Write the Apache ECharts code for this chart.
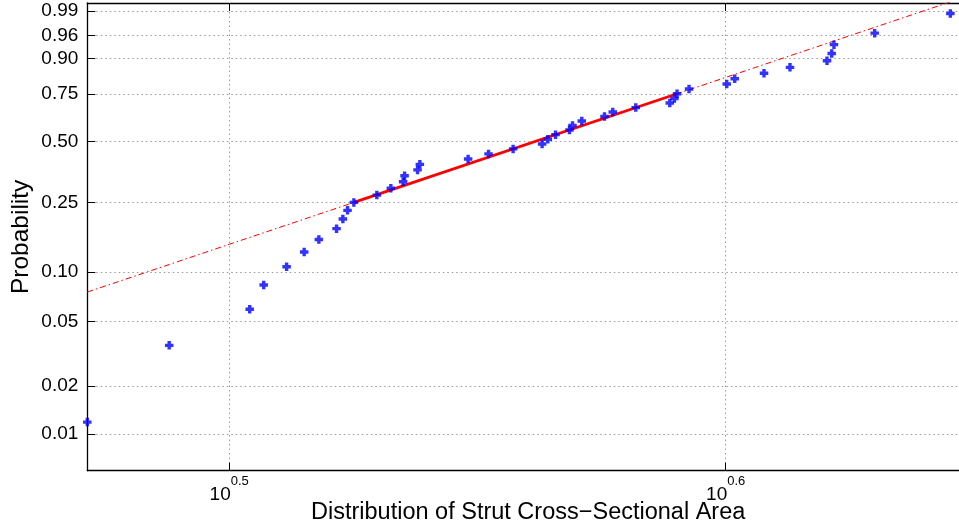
<!DOCTYPE html>
<html>
<head>
<meta charset="utf-8">
<script src="https://cdn.jsdelivr.net/npm/echarts@6/dist/echarts.min.js"></script>
<style>html,body{margin:0;padding:0;background:#fff;}#c{width:959px;height:530px;}</style>
</head>
<body>
<div id="c"></div>
<script>
// Strut cross-sectional area samples (sorted)
const areaValues = [2.9609, 3.0755, 3.1925, 3.2133, 3.2476, 3.2742, 3.2965, 3.3237, 3.3334, 3.3407,
  3.3505, 3.3864, 3.4084, 3.4279, 3.4302, 3.4509, 3.4546, 3.5328, 3.5664, 3.6073,
  3.6561, 3.6658, 3.6789, 3.7028, 3.7080, 3.7240, 3.7634, 3.7779, 3.8184, 3.8791,
  3.8875, 3.8922, 3.9139, 3.9829, 3.9977, 4.0524, 4.1015, 4.1725, 4.1816, 4.1860,
  4.2658, 4.4181];
// plotting-position probabilities
const probValues = [0.0119, 0.0357, 0.0595, 0.0833, 0.1071, 0.1310, 0.1548, 0.1786, 0.2024, 0.2262,
  0.2500, 0.2738, 0.2976, 0.3214, 0.3452, 0.3690, 0.3929, 0.4167, 0.4405, 0.4643,
  0.4881, 0.5119, 0.5357, 0.5595, 0.5833, 0.6071, 0.6310, 0.6548, 0.6786, 0.7024,
  0.7262, 0.7500, 0.7738, 0.7976, 0.8214, 0.8452, 0.8690, 0.8929, 0.9167, 0.9405,
  0.9643, 0.9881];
// reference line through the quartiles [area, probability]
const refLinePoints = [[3.3505, 0.25], [3.8922, 0.75]];
// axis limits
const xLimits = [2.9609, 4.4565];
const yLimits = [0.005906, 0.99424];
// tick labels
const xTickExponents = [0.5, 0.6];
const yTickProbs = [0.01, 0.02, 0.05, 0.10, 0.25, 0.50, 0.75, 0.90, 0.96, 0.99];
const yTickLabels = ['0.01', '0.02', '0.05', '0.10', '0.25', '0.50', '0.75', '0.90', '0.96', '0.99'];

const FONT = '"Liberation Sans", Arial, Helvetica, sans-serif';
const wb = p => Math.log(-Math.log(1 - p));
const lx = x => Math.log10(x);

const scatterData = areaValues.map((a, i) => [lx(a), wb(probValues[i])]);
const qA = [lx(refLinePoints[0][0]), wb(refLinePoints[0][1])];
const qB = [lx(refLinePoints[1][0]), wb(refLinePoints[1][1])];
const slope = (qB[1] - qA[1]) / (qB[0] - qA[0]);
const xMin = lx(xLimits[0]), xMax = lx(xLimits[1]);
const dashData = [[xMin, qA[1] + slope * (xMin - qA[0])], [xMax, qA[1] + slope * (xMax - qA[0])]];
const yTickVals = yTickProbs.map(wb);

function yLabel(v) {
  let best = 0, bd = Infinity;
  yTickVals.forEach((t, i) => { const d = Math.abs(t - v); if (d < bd) { bd = d; best = i; } });
  return yTickLabels[best];
}

const gridLine = { show: true, lineStyle: { color: '#9a9a9a', type: [1.5, 3], width: 1 } };
const axisLineStyle = { show: true, onZero: false, lineStyle: { color: '#000', width: 1.3 } };

const chart = echarts.init(document.getElementById('c'));
chart.setOption({
  animation: false,
  backgroundColor: '#fff',
  grid: { left: 87.3, top: 3, right: -10, bottom: 59.3, containLabel: false, outerBoundsMode: 'none' },
  xAxis: [{
    type: 'value', min: xMin, max: xMax, position: 'bottom',
    axisLine: axisLineStyle,
    axisTick: { show: true, inside: true, length: 8, customValues: xTickExponents, lineStyle: { color: '#000' } },
    splitLine: gridLine,
    axisLabel: {
      customValues: xTickExponents, margin: 3,
      formatter: v => '{b|10}{s|' + v.toFixed(1) + '}',
      rich: {
        b: { fontFamily: FONT, fontSize: 19, color: '#000', padding: [12, 0, 0, 0] },
        s: { fontFamily: FONT, fontSize: 13, color: '#000', padding: [0, 0, 15, 0] }
      }
    },
    name: 'Distribution of Strut Cross\u2212Sectional Area',
    nameLocation: 'middle', nameGap: 30, nameMoveOverlap: false,
    nameTextStyle: { fontFamily: FONT, fontSize: 23.5, color: '#000', verticalAlign: 'top' }
  }, {
    type: 'value', min: xMin, max: xMax, position: 'top',
    axisLine: axisLineStyle,
    axisTick: { show: true, inside: true, length: 8, customValues: xTickExponents, lineStyle: { color: '#000' } },
    splitLine: { show: false }, axisLabel: { show: false }
  }],
  yAxis: [{
    type: 'value', min: wb(yLimits[0]), max: wb(yLimits[1]), position: 'left',
    axisLine: axisLineStyle,
    axisTick: { show: true, inside: true, length: 8, customValues: yTickVals, lineStyle: { color: '#000' } },
    splitLine: gridLine,
    axisLabel: { customValues: yTickVals, margin: 9, formatter: yLabel, fontFamily: FONT, fontSize: 19, color: '#000' },
    name: 'Probability', nameLocation: 'middle', nameGap: 54, nameRotate: 90, nameMoveOverlap: false,
    nameTextStyle: { fontFamily: FONT, fontSize: 24.5, color: '#000' }
  }, {
    type: 'value', min: wb(yLimits[0]), max: wb(yLimits[1]), position: 'right',
    axisLine: axisLineStyle,
    axisTick: { show: true, inside: true, length: 8, customValues: yTickVals },
    splitLine: { show: false }, axisLabel: { show: false }
  }],
  series: [{
    type: 'line', data: dashData, showSymbol: false, symbol: 'none',
    lineStyle: { color: '#ff0000', width: 1, type: [6, 3, 1.5, 3] }, z: 2
  }, {
    type: 'line', data: [qA, qB], showSymbol: false, symbol: 'none',
    lineStyle: { color: '#ff0000', width: 2.8 }, z: 3
  }, {
    type: 'scatter', data: scatterData, clip: false,
    symbol: 'path://M3,0H7V3H10V7H7V10H3V7H0V3H3Z', symbolSize: 8.5,
    itemStyle: { color: '#0000ff' }, z: 4
  }]
});
</script>
</body>
</html>
